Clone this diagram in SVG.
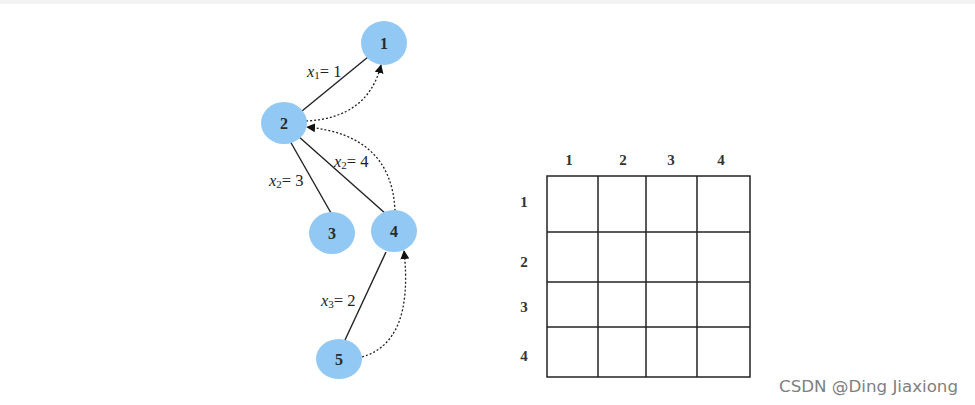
<svg xmlns="http://www.w3.org/2000/svg" width="975" height="405" viewBox="0 0 975 405">
<style>
.node{fill:#92c8f4;stroke:none}
.nl{font-family:"Liberation Serif",serif;font-size:16px;font-weight:bold;fill:#2a2a2a;text-anchor:middle;dominant-baseline:central}
.solid{stroke:#222;stroke-width:1.4;fill:none}
.dot{stroke:#222;stroke-width:1.3;fill:none;stroke-dasharray:2 2}
.lab{font-family:"Liberation Serif",serif;font-size:16.5px;fill:#222}
.grid{stroke:#222;stroke-width:1.5;fill:none}
.gl{font-family:"Liberation Serif",serif;font-size:15px;font-weight:bold;fill:#333;text-anchor:middle;dominant-baseline:central}
.wm{font-family:"DejaVu Sans",sans-serif;font-size:16px;fill:#808080}
</style>
<defs>
<marker id="ah" viewBox="0 0 10 10" refX="9" refY="5" markerWidth="9" markerHeight="9" markerUnits="userSpaceOnUse" orient="auto">
<path d="M0,0 L10,5 L0,10 z" fill="#111"/>
</marker>
</defs>
<rect x="0" y="0" width="975" height="405" fill="#fff"/>
<rect x="0" y="0" width="975" height="4" fill="#f2f2f2"/>
<g id="connectors">
<line class="solid" x1="302" y1="111" x2="368" y2="57"/>
<path class="dot" d="M306,121 Q368,118 381,65" marker-end="url(#ah)"/>
<line class="solid" x1="290" y1="141" x2="331" y2="213"/>
<line class="solid" x1="298" y1="136" x2="386" y2="214"/>
<path class="dot" d="M395,211 Q392,135 307,127" marker-end="url(#ah)"/>
<line class="solid" x1="386" y1="252" x2="345" y2="340"/>
<path class="dot" d="M362,357 Q414,342 404,251" marker-end="url(#ah)"/>
<text class="lab" x="307" y="77"><tspan font-style="italic">x</tspan><tspan font-size="11" dy="2">1</tspan><tspan dy="-2">= 1</tspan></text>
<text class="lab" x="334" y="167"><tspan font-style="italic">x</tspan><tspan font-size="11" dy="2">2</tspan><tspan dy="-2">= 4</tspan></text>
<text class="lab" x="269" y="186"><tspan font-style="italic">x</tspan><tspan font-size="11" dy="2">2</tspan><tspan dy="-2">= 3</tspan></text>
<text class="lab" x="321" y="306"><tspan font-style="italic">x</tspan><tspan font-size="11" dy="2">3</tspan><tspan dy="-2">= 2</tspan></text>
</g>
<g id="n1"><ellipse class="node" cx="384" cy="43" rx="23" ry="22"/><text class="nl" x="384" y="43">1</text></g>
<g id="n2"><ellipse class="node" cx="284" cy="123" rx="23" ry="21"/><text class="nl" x="284" y="123">2</text></g>
<g id="n3"><ellipse class="node" cx="332" cy="233" rx="23" ry="21"/><text class="nl" x="332" y="233">3</text></g>
<g id="n4"><ellipse class="node" cx="394" cy="231" rx="23" ry="21"/><text class="nl" x="394" y="231">4</text></g>
<g id="n5"><ellipse class="node" cx="339" cy="359" rx="23" ry="20"/><text class="nl" x="339" y="359">5</text></g>
<g id="matrix">
<rect class="grid" x="547" y="176" width="203" height="201"/>
<line class="grid" x1="598" y1="176" x2="598" y2="377"/>
<line class="grid" x1="646" y1="176" x2="646" y2="377"/>
<line class="grid" x1="697" y1="176" x2="697" y2="377"/>
<line class="grid" x1="547" y1="232" x2="750" y2="232"/>
<line class="grid" x1="547" y1="282" x2="750" y2="282"/>
<line class="grid" x1="547" y1="327" x2="750" y2="327"/>
<text class="gl" x="569" y="160">1</text>
<text class="gl" x="623" y="160">2</text>
<text class="gl" x="671" y="160">3</text>
<text class="gl" x="721" y="160">4</text>
<text class="gl" x="524" y="202">1</text>
<text class="gl" x="524" y="262">2</text>
<text class="gl" x="524" y="307">3</text>
<text class="gl" x="524" y="356">4</text>
</g>
<text class="wm" x="779" y="392" textLength="179" lengthAdjust="spacingAndGlyphs">CSDN @Ding Jiaxiong</text>
</svg>
